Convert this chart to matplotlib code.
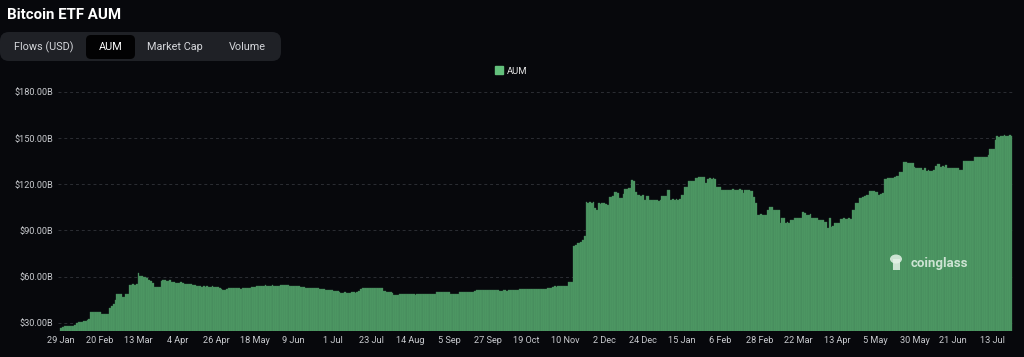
import matplotlib.pyplot as plt
import numpy as np
from matplotlib.patches import FancyBboxPatch, Ellipse, Rectangle, Patch
from matplotlib.ticker import FixedLocator

plt.rcParams["font.family"] = ["Roboto", "DejaVu Sans"]

# daily Bitcoin ETF AUM in $B, one bar per day from 29 Jan 2024
aum = [
    26.3, 27.0, 27.6, 28.0, 28.0, 28.1, 28.0, 28.2, 28.4, 29.8, 30.2, 30.3, 30.6, 31.0, 31.2, 31.6, 32.4, 36.8, 37.0, 37.1, 37.0, 36.9,
    36.8, 36.0, 35.9, 35.8, 35.9, 36.0, 39.4, 41.0, 42.5, 44.5, 48.6, 48.8, 49.0, 46.7, 46.5, 48.8, 49.0, 54.6, 54.8, 54.9, 54.8, 55.2,
    62.4, 60.5, 60.3, 60.0, 59.5, 58.8, 57.6, 57.4, 56.0, 53.2, 53.0, 53.1, 53.3, 57.2, 57.5, 57.6, 57.4, 57.3, 57.5, 56.8, 56.3, 56.0,
    55.8, 55.9, 56.2, 55.7, 55.5, 55.3, 55.2, 55.4, 55.0, 54.8, 54.6, 54.2, 53.8, 53.6, 53.5, 53.7, 53.5, 53.6, 53.4, 53.5, 53.7, 53.3,
    53.2, 53.0, 52.6, 52.0, 51.4, 51.0, 52.0, 52.3, 52.5, 52.4, 52.6, 52.5, 52.3, 52.4, 52.2, 52.5, 52.6, 52.4, 52.5, 52.8, 53.0, 53.2,
    53.4, 53.8, 54.0, 54.2, 54.0, 54.1, 54.3, 54.2, 54.0, 54.1, 54.3, 54.2, 54.0, 54.1, 54.2, 54.4, 54.5, 54.6, 54.5, 54.3, 54.2, 54.0,
    53.9, 54.0, 53.8, 53.6, 53.2, 53.0, 53.0, 52.8, 52.9, 52.8, 52.6, 52.7, 52.5, 52.4, 52.3, 52.2, 52.0, 51.8, 51.5, 51.2, 51.0, 51.1,
    51.0, 50.9, 50.8, 50.5, 49.8, 49.6, 49.5, 49.7, 49.6, 49.5, 49.6, 49.8, 49.7, 49.6, 49.8, 50.5, 52.0, 52.4, 52.6, 52.5, 52.7, 52.6,
    52.4, 52.5, 52.8, 52.6, 52.3, 52.9, 52.8, 50.8, 50.5, 50.2, 50.0, 49.7, 49.6, 47.9, 47.8, 48.0, 48.5, 48.6, 48.4, 48.5, 48.7, 48.5,
    48.4, 48.6, 48.5, 48.3, 48.5, 48.6, 48.4, 48.5, 48.7, 48.6, 48.5, 48.4, 48.6, 48.5, 48.7, 50.0, 50.1, 50.0, 49.9, 50.1, 50.0, 49.9,
    50.0, 48.6, 48.4, 48.5, 48.6, 48.7, 49.8, 50.0, 50.1, 50.0, 50.2, 50.0, 50.1, 50.3, 50.2, 50.4, 51.0, 51.1, 51.2, 51.0, 51.1, 51.3,
    51.2, 51.0, 51.1, 51.3, 51.2, 51.0, 51.1, 50.8, 50.9, 51.0, 51.1, 50.9, 51.0, 51.2, 51.0, 51.1, 51.0, 51.2, 51.8, 51.9, 51.7, 51.8,
    51.9, 51.8, 51.7, 51.9, 52.0, 51.8, 51.9, 51.8, 51.7, 51.9, 52.0, 51.8, 52.4, 52.5, 52.3, 53.4, 53.6, 53.5, 53.8, 53.9, 53.7, 53.9,
    54.0, 54.2, 56.2, 56.5, 56.4, 80.2, 80.5, 81.9, 82.0, 82.4, 84.0, 86.1, 108.2, 108.0, 108.3, 108.1, 108.2, 104.4, 103.3, 107.6, 107.5, 107.8,
    107.6, 107.4, 106.5, 111.8, 112.0, 112.2, 114.7, 115.0, 114.5, 110.8, 111.0, 114.0, 117.0, 117.2, 117.4, 117.3, 122.6, 122.3, 115.0, 113.0, 112.9, 112.7,
    112.9, 109.7, 112.5, 112.3, 110.0, 109.7, 109.5, 109.8, 109.6, 109.3, 109.7, 112.5, 112.6, 112.4, 116.6, 116.2, 109.7, 110.2, 110.0, 110.3, 110.1, 110.2,
    112.9, 113.2, 118.3, 118.5, 122.1, 122.3, 122.0, 122.4, 124.3, 124.2, 124.5, 124.7, 124.9, 124.6, 120.8, 123.7, 123.8, 123.6, 123.9, 123.5, 118.3, 118.5,
    118.0, 116.1, 116.3, 116.2, 116.3, 116.5, 116.2, 116.8, 116.4, 116.6, 116.5, 116.7, 116.6, 114.2, 116.6, 116.5, 116.2, 115.6, 115.5, 112.0, 107.8, 100.3,
    100.2, 100.4, 100.3, 100.2, 100.3, 103.5, 105.2, 105.0, 103.5, 103.6, 103.4, 103.5, 95.0, 98.2, 98.0, 95.0, 95.2, 95.0, 96.6, 96.5, 98.2, 98.0,
    98.3, 98.1, 98.2, 101.8, 101.6, 100.3, 100.2, 100.4, 98.2, 98.1, 98.3, 98.0, 97.0, 97.1, 96.9, 95.3, 95.2, 91.7, 98.0, 92.4, 92.6, 95.0,
    95.1, 95.0, 97.7, 97.6, 97.8, 97.7, 97.6, 97.8, 97.7, 103.5, 103.6, 107.8, 108.0, 111.4, 111.3, 111.5, 112.4, 113.1, 113.0, 115.8, 115.9, 115.8,
    115.2, 115.1, 113.0, 114.0, 114.2, 123.2, 123.4, 124.3, 124.2, 124.4, 124.3, 124.5, 125.4, 125.5, 128.2, 128.3, 134.7, 134.6, 133.7, 133.8, 133.6, 133.7,
    131.5, 130.8, 130.9, 130.7, 130.8, 129.3, 130.3, 128.9, 129.0, 128.8, 128.9, 129.0, 132.1, 133.2, 133.1, 131.5, 131.6, 131.4, 132.6, 130.8, 130.9, 130.7,
    130.8, 130.9, 130.6, 130.8, 129.3, 129.4, 135.2, 135.3, 135.1, 135.2, 135.4, 135.3, 137.6, 137.5, 137.7, 137.6, 137.5, 137.8, 137.6, 137.7, 139.1, 142.8,
    142.9, 142.7, 148.9, 151.1, 151.0, 151.7, 151.6, 151.8, 151.7, 151.6, 151.8, 151.7,
]

# one label every 22 bars
tick_labels = [
    "29 Jan", "20 Feb", "13 Mar", "4 Apr", "26 Apr", "18 May", "9 Jun", "1 Jul",
    "23 Jul", "14 Aug", "5 Sep", "27 Sep", "19 Oct", "10 Nov", "2 Dec", "24 Dec",
    "15 Jan", "6 Feb", "28 Feb", "22 Mar", "13 Apr", "5 May", "30 May", "21 Jun", "13 Jul",
]
tick_step = 22
y_ticks = [30, 60, 90, 120, 150, 180]
tabs = ["Flows (USD)", "AUM", "Market Cap", "Volume"]
tab_x = [44, 110.5, 175, 247]

BG = "#07080c"
GREEN = "#4e9c65"
W, H = 1024, 357

fig = plt.figure(figsize=(W / 100, H / 100), dpi=100)
fig.patch.set_facecolor(BG)

# header / tab bar drawn in pixel coords
ui = fig.add_axes([0, 0, 1, 1])
ui.set_xlim(0, W)
ui.set_ylim(H, 0)
ui.axis("off")
ui.text(7, 15, "Bitcoin ETF AUM", fontsize=10.8, fontweight="bold", color="white", va="center")
ui.add_patch(FancyBboxPatch((0, 32), 281, 29, boxstyle="round,pad=0,rounding_size=9",
                            fc="#1f2126", ec="none"))
ui.add_patch(FancyBboxPatch((86, 35), 49, 24, boxstyle="round,pad=0,rounding_size=5",
                            fc="#020203", ec="none"))
for name, tx in zip(tabs, tab_x):
    ui.text(tx, 47, name, fontsize=7.8, color="white" if name == "AUM" else "#d4d6da",
            ha="center", va="center")

# the chart itself
x0, x1, ytop, ybot = 58.3, 1014.1, 92, 330.5
ax = fig.add_axes([x0 / W, (H - ybot) / H, (x1 - x0) / W, (ybot - ytop) / H])
ax.set_facecolor("none")
idx = np.arange(len(aum))
ax.bar(idx, aum, width=1.0, color=GREEN, edgecolor="#447f58", linewidth=0.25, zorder=2)
ax.set_xlim(-1.5, 540.5)
ax.set_ylim(25, 180)
ax.set_axisbelow(True)
ax.yaxis.set_major_locator(FixedLocator(y_ticks))
ax.set_yticklabels([f"${v:.2f}B" for v in y_ticks])
ax.set_xticks(np.arange(0, len(tick_labels) * tick_step, tick_step))
ax.set_xticklabels(tick_labels)
ax.tick_params(axis="both", length=0, labelsize=6.6, colors="#c9cbcf")
ax.tick_params(axis="y", pad=3.5)
ax.tick_params(axis="x", pad=4)
ax.grid(axis="y", color="#2c2e34", linestyle=(0, (3, 3)), linewidth=0.7, zorder=0)
for s in ax.spines.values():
    s.set_visible(False)

fig.legend(handles=[Patch(color="#63c07c")], labels=["AUM"], loc="center",
           bbox_to_anchor=(511 / W, 1 - 71 / H), frameon=False, fontsize=6.8,
           labelcolor="#e6e6e6", handlelength=0.9, handleheight=0.9, handletextpad=0.4)

# watermark on top of the bars
wm = fig.add_axes([0, 0, 1, 1], zorder=5)
wm.set_xlim(0, W)
wm.set_ylim(H, 0)
wm.axis("off")
wm.patch.set_alpha(0)
wm.add_patch(Ellipse((896, 259), 12, 9, fc="#e4f2e7", ec="none", alpha=0.85))
wm.add_patch(Rectangle((892.5, 259), 7, 11, fc="#e4f2e7", ec="none", alpha=0.85))
wm.text(911, 263, "coinglass", fontsize=9.5, fontweight="bold", color="#e4f2e7",
        alpha=0.85, ha="left", va="center")

fig.savefig("out.png", dpi=100, facecolor=BG)
